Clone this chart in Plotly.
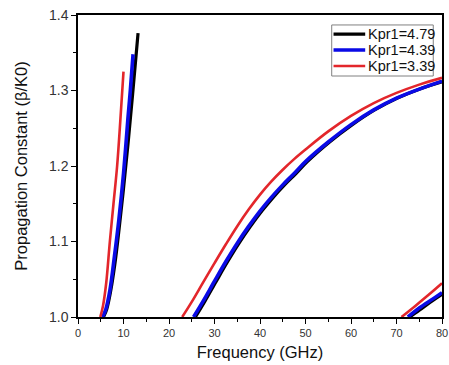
import plotly.graph_objects as go

# ---- data ----
labels = ["Kpr1=4.79", "Kpr1=4.39", "Kpr1=3.39"]
colors = ["#000000", "#0a0ae6", "#e3262b"]
widths = [3.2, 3.6, 2.6]

# mode 1
black_m1_x = [5.6, 6.3, 7.2, 8.1, 9.0, 10.0, 11.0, 12.0, 13.2]
black_m1_y = [1.0, 1.01, 1.035, 1.07, 1.115, 1.17, 1.23, 1.295, 1.376]
blue_m1_x = [5.4, 6.1, 7.0, 8.0, 9.0, 10.0, 11.0, 11.5, 12.1]
blue_m1_y = [1.0, 1.01, 1.035, 1.08, 1.13, 1.19, 1.265, 1.30, 1.348]
red_m1_x = [4.9, 5.5, 6.2, 7.0, 7.8, 8.6, 9.3, 10.0]
red_m1_y = [1.0, 1.015, 1.045, 1.10, 1.15, 1.20, 1.26, 1.325]

# mode 2
black_m2_x = [25.8, 27.9, 30.4, 32.9, 35.4, 37.9, 40.4, 42.9, 45.4, 47.9, 50.4, 55.3, 60.3, 65.2, 70.1, 75.0, 80.0]
black_m2_y = [1.0, 1.021, 1.0475, 1.0735, 1.0978, 1.12, 1.1403, 1.1585, 1.175, 1.19, 1.2058, 1.2318, 1.2548, 1.2743, 1.2898, 1.3018, 1.3115]
blue_m2_x = [25.4, 27.5, 30.0, 32.5, 35.0, 37.5, 40.0, 42.5, 45.0, 47.5, 50.0, 55.0, 60.0, 65.0, 70.0, 75.0, 80.0]
blue_m2_y = [1.0, 1.021, 1.0475, 1.0735, 1.0978, 1.12, 1.1403, 1.1585, 1.175, 1.19, 1.2058, 1.2318, 1.2548, 1.2743, 1.2898, 1.3018, 1.3123]
red_m2_x = [22.9, 25.0, 27.5, 30.0, 32.5, 35.0, 37.5, 40.0, 42.5, 45.0, 47.5, 50.0, 55.0, 60.0, 65.0, 70.0, 75.0, 80.0]
red_m2_y = [1.0, 1.020, 1.0458, 1.0713, 1.0963, 1.1203, 1.1423, 1.1621, 1.1796, 1.1951, 1.2091, 1.2218, 1.2458, 1.2663, 1.2833, 1.2968, 1.3078, 1.3168]

# mode 3
black_m3_x = [72.9, 75.5, 78.0, 80.0]
black_m3_y = [1.0, 1.011, 1.022, 1.030]
blue_m3_x = [72.5, 75.0, 78.0, 80.0]
blue_m3_y = [1.0, 1.012, 1.024, 1.0323]
red_m3_x = [71.1, 74.0, 77.0, 80.0]
red_m3_y = [1.0, 1.014, 1.029, 1.0446]

series = [
    (black_m1_x + [None] + black_m2_x + [None] + black_m3_x,
     black_m1_y + [None] + black_m2_y + [None] + black_m3_y),
    (blue_m1_x + [None] + blue_m2_x + [None] + blue_m3_x,
     blue_m1_y + [None] + blue_m2_y + [None] + blue_m3_y),
    (red_m1_x + [None] + red_m2_x + [None] + red_m3_x,
     red_m1_y + [None] + red_m2_y + [None] + red_m3_y),
]

fig = go.Figure()
for (xs, ys), name, c, w in zip(series, labels, colors, widths):
    fig.add_trace(go.Scatter(x=xs, y=ys, mode="lines", name=name, showlegend=False,
                             line=dict(color=c, width=w, shape="spline", smoothing=1.0),
                             connectgaps=False))

# hand-drawn legend box (paper coordinates)
leg_x0, leg_x1, leg_top, leg_bot = 0.697, 0.976, 0.967, 0.798
row_y = [0.937, 0.884, 0.831]
shapes = [dict(type="rect", xref="paper", yref="paper", x0=leg_x0, x1=leg_x1,
               y0=leg_bot, y1=leg_top, line=dict(color="#808080", width=1),
               fillcolor="white", layer="above")]
annotations = []
for name, c, w, ry in zip(labels, colors, widths, row_y):
    shapes.append(dict(type="line", xref="paper", yref="paper", x0=0.702, x1=0.789,
                       y0=ry, y1=ry, line=dict(color=c, width=w), layer="above"))
    annotations.append(dict(xref="paper", yref="paper", x=0.791, y=ry, text=name,
                            showarrow=False, xanchor="left", yanchor="middle",
                            font=dict(size=14.5, color="#111")))

font_family = "Liberation Sans, Arial, sans-serif"
fig.update_layout(
    width=449, height=365,
    margin=dict(l=78, r=1, t=15, b=48),
    paper_bgcolor="white", plot_bgcolor="white",
    font=dict(family=font_family, color="#222"),
    showlegend=False,
    shapes=shapes, annotations=annotations,
    xaxis=dict(range=[0, 80], dtick=10, tick0=0, showgrid=False, zeroline=False,
               showline=True, linecolor="black", linewidth=1.5, mirror=True,
               ticks="outside", ticklen=5, tickwidth=1.2, tickcolor="black",
               tickfont=dict(size=11, color="#333"), ticklabeloverflow="allow",
               minor=dict(dtick=5, ticks="outside", ticklen=3, tickcolor="black", tickwidth=1),
               title=dict(text="Frequency (GHz)", font=dict(size=16.5, color="#111"), standoff=8)),
    yaxis=dict(range=[1.0, 1.4], dtick=0.1, tick0=1.0, showgrid=False, zeroline=False,
               showline=True, linecolor="black", linewidth=1.5, mirror=True,
               ticks="outside", ticklen=5, tickwidth=1.2, tickcolor="black",
               tickformat=".1f", tickfont=dict(size=14, color="#333"),
               minor=dict(dtick=0.05, ticks="outside", ticklen=3, tickcolor="black", tickwidth=1),
               title=dict(text="Propagation Constant (β/K0)", font=dict(size=16.5, color="#111"), standoff=17)),
)

fig.write_html("out.html")
